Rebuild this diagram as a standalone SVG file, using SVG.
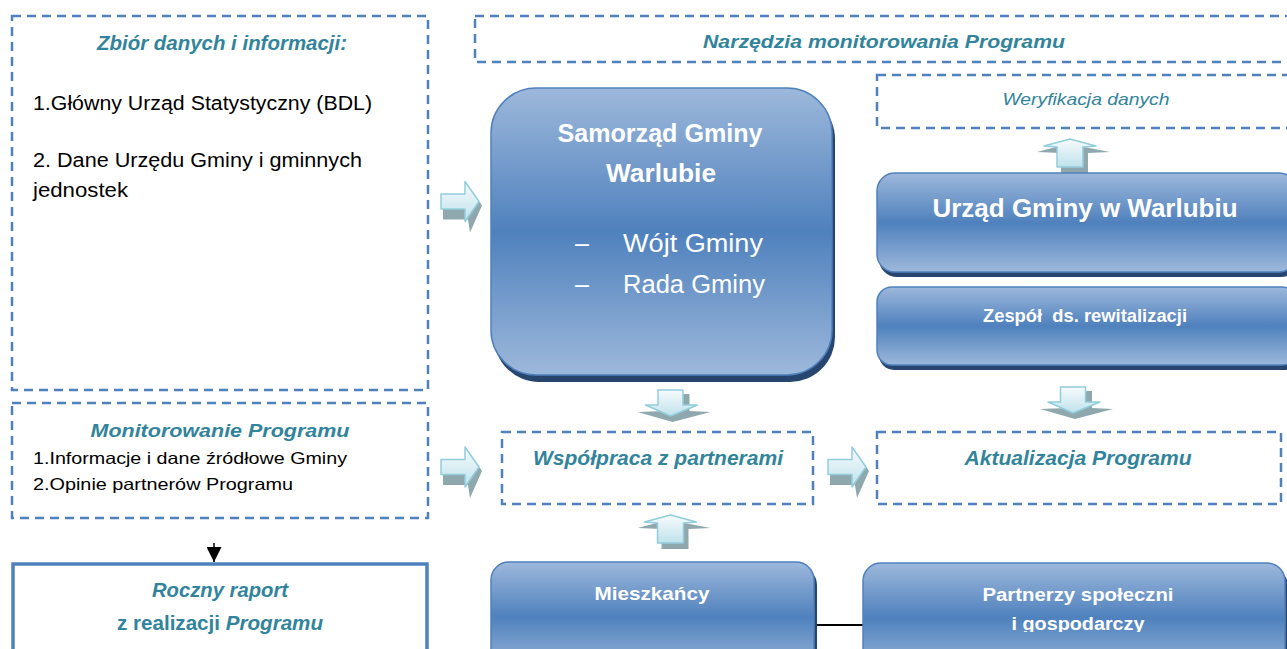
<svg xmlns="http://www.w3.org/2000/svg" xmlns:xlink="http://www.w3.org/1999/xlink" width="1287" height="649" viewBox="0 0 1287 649">
<defs>
<style>
.dash{fill:#fff;stroke:#4F81BD;stroke-width:2.5;stroke-dasharray:9 6}
.solid{fill:#fff;stroke:#4F81BD;stroke-width:3.5}
.box{fill:url(#boxGrad);stroke:#4F81BD;stroke-width:1.5}
.shadow{fill:#27466F}
.t{font-family:"Liberation Sans",Arial,sans-serif}
.teal{fill:#31849B;font-weight:bold;font-style:italic}
.body{fill:#000}
.w{fill:#fff}
.af{fill:url(#arrGrad);stroke:#92CDDC;stroke-width:1.5;stroke-linejoin:round}
.as{fill:#8FA8AD}
</style>
<linearGradient id="boxGrad" x1="0" y1="0" x2="0" y2="1">
<stop offset="0" stop-color="#9DB8DB"/>
<stop offset="0.5" stop-color="#4F81BD"/>
<stop offset="1" stop-color="#9DB8DB"/>
</linearGradient>
<linearGradient id="arrGrad" x1="0" y1="0" x2="0" y2="1">
<stop offset="0" stop-color="#F7FBFD"/>
<stop offset="1" stop-color="#BFE2EB"/>
</linearGradient>
<g id="arrDown">
<polygon class="as" points="-6,4 19,4 19,21 40,22 2,32 -33,22 -6,21"/>
<polygon class="af" points="-12.5,0 12.5,0 12.5,15 27,15 0,26 -25,15 -12.5,15"/>
</g>
<g id="arrUp">
<polygon class="as" points="-9,6 18,6 18,-14 40,-15 14,-20 -14,-20 -33,-15 -9,-14"/>
<polygon class="af" points="-13,0 13,0 13,-20 26,-21 0,-28 -26,-21 -13,-20"/>
</g>
<g id="arrRight">
<polygon class="as" points="2,-3 27,-3 27,-16 41,4 29,31 27,18 2,18"/>
<polygon class="af" points="0,-7.5 24,-7.5 24,-20 38,0 24,20 24,7.5 0,7.5"/>
</g>
<marker id="tri" viewBox="0 0 10 10" refX="10" refY="5" markerWidth="15" markerHeight="15" markerUnits="userSpaceOnUse" orient="auto">
<path d="M0,0 L10,5 L0,10 z" fill="#000"/>
</marker>
<clipPath id="clipP"><rect x="860" y="560" width="430" height="72"/></clipPath>
</defs>

<g id="connectors">
<use xlink:href="#arrRight" x="441" y="201.5"/>
<use xlink:href="#arrRight" x="441" y="467"/>
<use xlink:href="#arrRight" x="828" y="467"/>
<use xlink:href="#arrDown" x="670.5" y="390"/>
<use xlink:href="#arrDown" x="1073" y="387"/>
<use xlink:href="#arrUp" x="1070" y="167"/>
<use xlink:href="#arrUp" x="670.5" y="543"/>
<line x1="214" y1="543" x2="214" y2="562" stroke="#000" stroke-width="1.5" marker-end="url(#tri)"/>
<line x1="814" y1="625" x2="864" y2="625" stroke="#000" stroke-width="2"/>
</g>

<g id="zbior">
<rect class="dash" x="12" y="16" width="416" height="374"/>
<text class="t teal" x="222" y="50" font-size="20" text-anchor="middle" textLength="250" lengthAdjust="spacingAndGlyphs">Zbiór danych i informacji:</text>
<text class="t body" x="33" y="110" font-size="20" textLength="339" lengthAdjust="spacingAndGlyphs">1.Główny Urząd Statystyczny (BDL)</text>
<text class="t body" x="33" y="167" font-size="20" textLength="329" lengthAdjust="spacingAndGlyphs">2. Dane Urzędu Gminy i gminnych</text>
<text class="t body" x="33" y="197" font-size="20" textLength="95" lengthAdjust="spacingAndGlyphs">jednostek</text>
</g>

<g id="monitorowanie">
<rect class="dash" x="12" y="403" width="416" height="115"/>
<text class="t teal" x="220" y="437" font-size="19" text-anchor="middle" textLength="259" lengthAdjust="spacingAndGlyphs">Monitorowanie Programu</text>
<text class="t body" x="33" y="464" font-size="16.5" textLength="314" lengthAdjust="spacingAndGlyphs">1.Informacje i dane źródłowe Gminy</text>
<text class="t body" x="33" y="490" font-size="16.5" textLength="260" lengthAdjust="spacingAndGlyphs">2.Opinie partnerów Programu</text>
</g>

<g id="raport">
<rect class="solid" x="13" y="564" width="414" height="110"/>
<text class="t teal" x="220" y="597" font-size="20" text-anchor="middle" textLength="136" lengthAdjust="spacingAndGlyphs">Roczny raport</text>
<text class="t" x="220" y="630" font-size="20" text-anchor="middle" fill="#31849B" font-weight="bold" textLength="206" lengthAdjust="spacingAndGlyphs">z realizacji <tspan font-style="italic">Programu</tspan></text>
</g>

<g id="narzedzia">
<rect class="dash" x="475" y="16" width="830" height="46"/>
<text class="t teal" x="884" y="48" font-size="19" text-anchor="middle" textLength="362" lengthAdjust="spacingAndGlyphs">Narzędzia monitorowania Programu</text>
</g>

<g id="weryfikacja">
<rect class="dash" x="877" y="75" width="430" height="53"/>
<text class="t" x="1086" y="105" font-size="17" font-style="italic" fill="#31849B" text-anchor="middle" textLength="167" lengthAdjust="spacingAndGlyphs">Weryfikacja danych</text>
</g>

<g id="samorzad">
<rect class="shadow" x="494" y="94" width="341" height="288" rx="45"/>
<rect class="box" x="491" y="88" width="341" height="287" rx="45"/>
<text class="t w" x="660" y="142" font-size="25" font-weight="bold" text-anchor="middle" textLength="205" lengthAdjust="spacingAndGlyphs">Samorząd Gminy</text>
<text class="t w" x="661" y="182" font-size="25" font-weight="bold" text-anchor="middle" textLength="110" lengthAdjust="spacingAndGlyphs">Warlubie</text>
<text class="t w" x="575" y="252" font-size="25">–</text>
<text class="t w" x="623" y="252" font-size="25" textLength="140" lengthAdjust="spacingAndGlyphs">Wójt Gminy</text>
<text class="t w" x="575" y="293" font-size="25">–</text>
<text class="t w" x="623" y="293" font-size="25" textLength="142" lengthAdjust="spacingAndGlyphs">Rada Gminy</text>
</g>

<g id="urzad">
<rect class="shadow" x="879" y="178" width="420" height="99" rx="18"/>
<rect class="box" x="877" y="173" width="420" height="99" rx="18"/>
<text class="t w" x="1085" y="217" font-size="25" font-weight="bold" text-anchor="middle" textLength="305" lengthAdjust="spacingAndGlyphs">Urząd Gminy w Warlubiu</text>
</g>

<g id="zespol">
<rect class="shadow" x="879" y="292" width="420" height="78" rx="15"/>
<rect class="box" x="877" y="287" width="420" height="78" rx="15"/>
<text class="t w" x="1085" y="322" font-size="18" font-weight="bold" text-anchor="middle" textLength="204" lengthAdjust="spacingAndGlyphs">Zespół&#160; ds. rewitalizacji</text>
</g>

<g id="wspolpraca">
<rect class="dash" x="502" y="432" width="311" height="72"/>
<text class="t teal" x="658" y="465" font-size="20" text-anchor="middle" textLength="250" lengthAdjust="spacingAndGlyphs">Współpraca z partnerami</text>
</g>

<g id="aktualizacja">
<rect class="dash" x="877" y="432" width="404" height="72"/>
<text class="t teal" x="1078" y="465" font-size="20" text-anchor="middle" textLength="227" lengthAdjust="spacingAndGlyphs">Aktualizacja Programu</text>
</g>

<g id="mieszkancy">
<rect class="shadow" x="494" y="567" width="323" height="110" rx="18"/>
<rect class="box" x="491" y="562" width="323" height="110" rx="18"/>
<text class="t w" x="652" y="600" font-size="19" font-weight="bold" text-anchor="middle" textLength="115" lengthAdjust="spacingAndGlyphs">Mieszkańcy</text>
</g>

<g id="partnerzy">
<rect class="shadow" x="866" y="568" width="422" height="110" rx="18"/>
<rect class="box" x="863" y="563" width="422" height="110" rx="18"/>
<text class="t w" x="1078" y="601" font-size="18" font-weight="bold" text-anchor="middle" textLength="191" lengthAdjust="spacingAndGlyphs">Partnerzy społeczni</text>
<text class="t w" x="1078" y="630" font-size="18" font-weight="bold" text-anchor="middle" textLength="133" lengthAdjust="spacingAndGlyphs" clip-path="url(#clipP)">i gospodarczy</text>
</g>
</svg>
